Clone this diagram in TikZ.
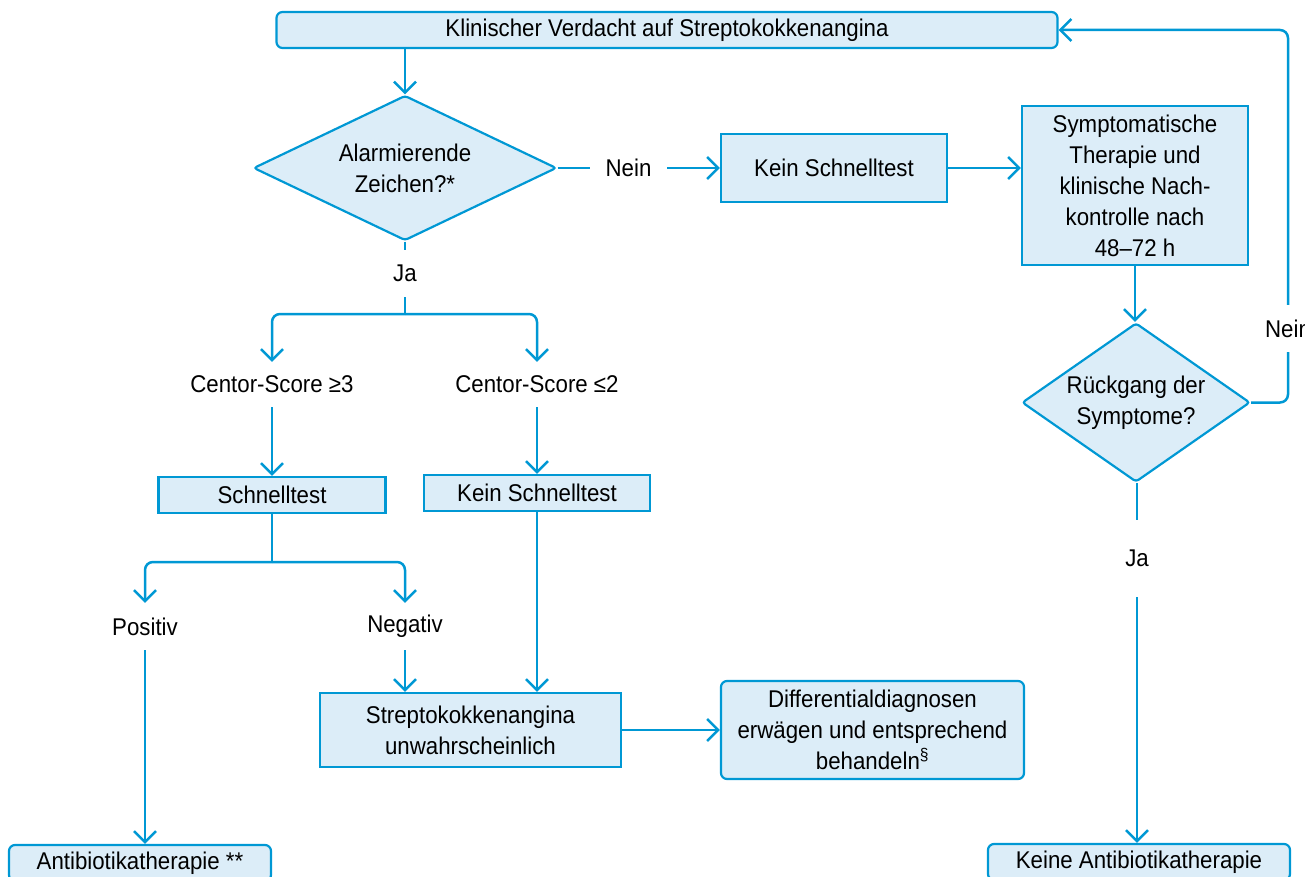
\documentclass[tikz,border=0pt]{standalone}
\usepackage{fontspec}
\setmainfont[FakeStretch=0.92]{Liberation Sans}
\usetikzlibrary{arrows.meta,shapes.geometric}
\definecolor{fc}{RGB}{0,152,212}
\definecolor{fl}{RGB}{220,237,248}
\begin{document}
\begin{tikzpicture}[x=1pt,y=-1pt,
  every node/.style={font=\fontsize{24.2}{31}\selectfont, text=black, inner sep=0pt},
  box/.style={draw=fc, fill=fl, line width=2.2pt, align=center},
  rbox/.style={box, rounded corners=6pt},
  dia/.style={draw=fc, fill=fl, line width=2.2pt, diamond, rounded corners=3pt},
  conn/.style={draw=fc, line width=2.5pt},
  arr/.style={conn, -{Straight Barb[length=11pt,width=22pt,line width=2.5pt]}},
  lab/.style={align=center}]
\useasboundingbox (0,0) rectangle (1305,877);

% nodes
\node[rbox, minimum width=781, minimum height=36] (top) at (667,30) {Klinischer Verdacht auf Streptokokkenangina};
\node[dia, minimum width=303, minimum height=145] (d1) at (405,168) {};
\node[lab] (d1t) at (d1) {Alarmierende\\Zeichen?*};
\node[lab, minimum width=77, minimum height=30] (nein1) at (628.5,168) {Nein};
\node[box, minimum width=226, minimum height=68] (ks1) at (834,168) {Kein Schnelltest};
\node[box, minimum width=226, minimum height=159] (sym) at (1135,185.5) {Symptomatische\\Therapie und\\klinische Nach-\\kontrolle nach\\48–72 h};
\node[dia, minimum width=228, minimum height=159] (d2) at (1136,402.5) {};
\node[lab] (d2t) at (d2) {Rückgang der\\Symptome?};
\node[lab, minimum height=47] (nein2) at (1288,328.5) {Nein};
\node[lab, minimum height=77] (ja2) at (1137,558.5) {Ja};
\node[rbox, minimum width=302, minimum height=36] (kab) at (1139,862) {Keine Antibiotikatherapie};

\node[lab, minimum height=47] (ja1) at (405,273.5) {Ja};
\coordinate (b1) at (405,314);
\node[lab, minimum height=45] (c3) at (272,384.5) {Centor-Score ≥3};
\node[lab, minimum height=45] (c2) at (537,384.5) {Centor-Score ≤2};
\node[box, minimum width=227, minimum height=36] (st) at (272,495) {Schnelltest};
\node[box, minimum width=226, minimum height=36] (ks2) at (537,493) {Kein Schnelltest};
\coordinate (b2) at (272,562);
\node[lab, minimum height=47] (pos) at (145,626.5) {Positiv};
\node[lab, minimum height=47] (neg) at (405,626.5) {Negativ};
\node[box, minimum width=301, minimum height=74] (su) at (470.5,730) {Streptokokkenangina\\unwahrscheinlich};
\node[rbox, minimum width=303, minimum height=98] (dd) at (872.5,730) {Differentialdiagnosen\\erwägen und entsprechend\\behandeln\textsuperscript{§}};
\node[rbox, minimum width=262, minimum height=36] (ab) at (140,863) {Antibiotikatherapie **};

% connectors
\draw[arr] (d1.north |- top.south) -- (d1.north);
\draw[conn] (d1.east) -- (nein1.west);
\draw[arr] (nein1.east) -- (ks1.west);
\draw[arr] (ks1.east) -- (ks1.east -| sym.west);
\draw[arr] (sym.south) -- (sym.south |- d2.north);
\draw[conn, rounded corners=8pt] (d2.east) -| (nein2.south);
\draw[arr, rounded corners=8pt] (nein2.north) |- (top.east);
\draw[conn] (ja2.north |- d2.south) -- (ja2.north);
\draw[arr] (ja2.south) -- (ja2.south |- kab.north);

\draw[conn] (d1.south) -- (ja1.north);
\draw[conn] (ja1.south) -- (b1);
\draw[arr, rounded corners=8pt] (b1) -| (c3.north);
\draw[arr, rounded corners=8pt] (b1) -| (c2.north);
\draw[arr] (c3.south) -- (st.north);
\draw[arr] (c2.south) -- (ks2.north);
\draw[conn] (st.south) -- (b2);
\draw[arr, rounded corners=8pt] (b2) -| (pos.north);
\draw[arr, rounded corners=8pt] (b2) -| (neg.north);
\draw[arr] (pos.south) -- (pos.south |- ab.north);
\draw[arr] (neg.south) -- (neg.south |- su.north);
\draw[arr] (ks2.south) -- (ks2.south |- su.north);
\draw[arr] (su.east) -- (dd.west);
\end{tikzpicture}
\end{document}
